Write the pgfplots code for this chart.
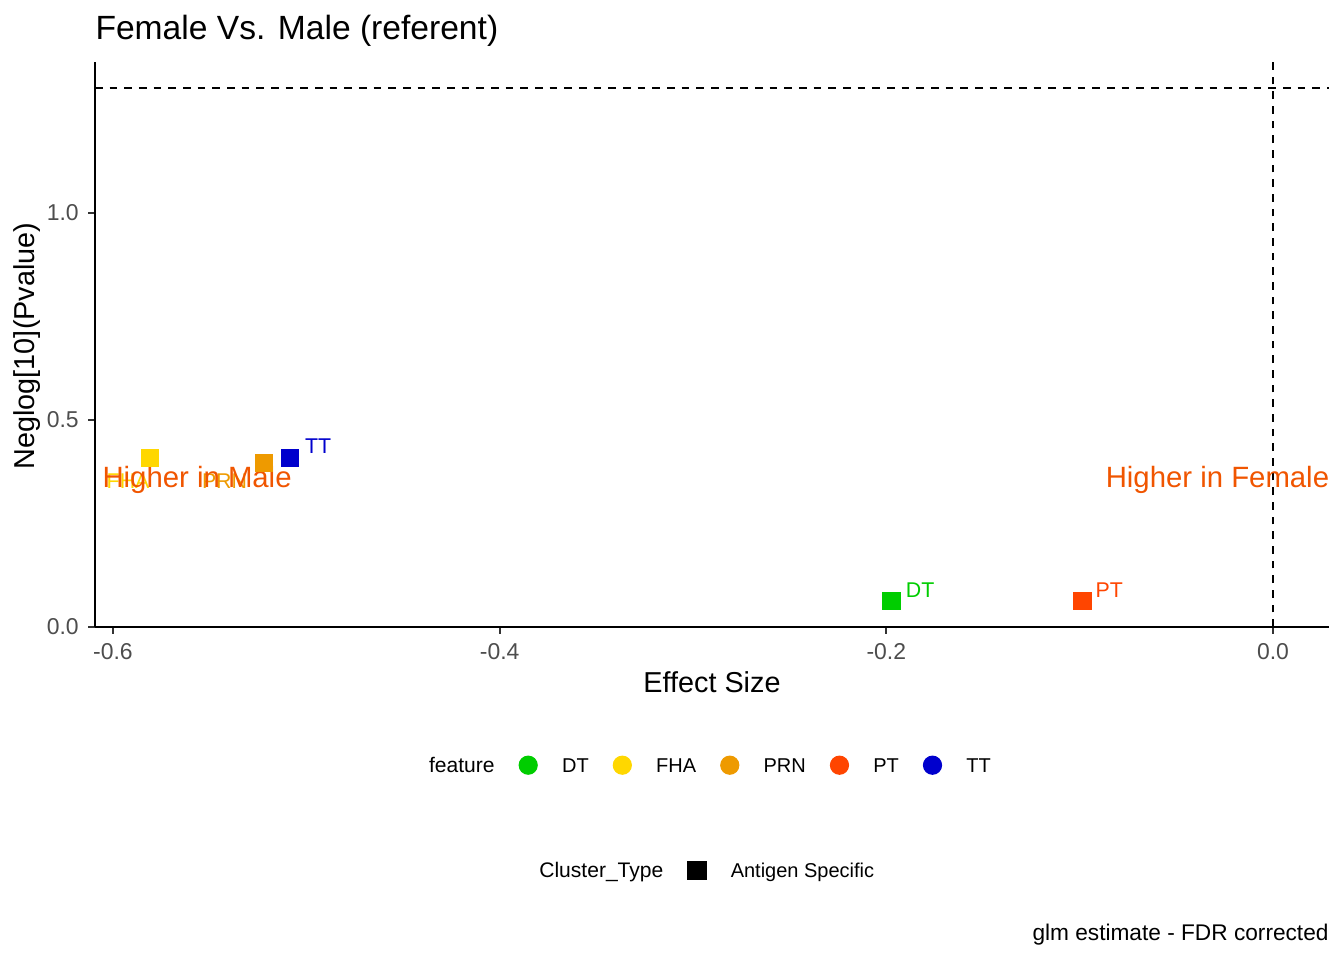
\documentclass[border=0pt]{standalone}
\usepackage{pgfplots}
\pgfplotsset{compat=1.18}
\usepackage{fontspec}
\setmainfont{Liberation Sans}
\definecolor{cDT}{HTML}{00CD00}
\definecolor{cFHA}{HTML}{FFD700}
\definecolor{cPRN}{HTML}{EE9A00}
\definecolor{cPT}{HTML}{FF4500}
\definecolor{cTT}{HTML}{0000CD}
\definecolor{cAnn}{HTML}{F05500}
\definecolor{tickgray}{HTML}{4D4D4D}
\newcommand{\legtitle}{\fontsize{7.9}{9}\selectfont}
\pgfplotsset{
  mylegend/.style={draw=none, fill=none, inner sep=0pt, outer sep=0pt,
    legend columns=-1, font=\fontsize{7.5}{9}\selectfont,
    cells={anchor=base west}, nodes={inner sep=0pt},
    /tikz/every odd column/.append style={column sep=9.1pt},
    /tikz/every even column/.append style={column sep=9.0pt}},
}
\begin{document}
\begin{tikzpicture}
\useasboundingbox (0,0) rectangle (504pt,360pt);
\begin{axis}[
  at={(35.625pt,124.875pt)}, anchor=south west,
  scale only axis, width=462.75pt, height=211.875pt,
  xmin=-0.6093, xmax=0.029, ymin=0, ymax=1.365,
  axis lines=left, axis line style={-, line width=0.9pt, black},
  tick align=outside, major tick length=2.6pt,
  tick style={line width=0.75pt, color=black!80},
  xtick={-0.6,-0.4,-0.2,0}, xticklabels={-0.6,-0.4,-0.2,0.0},
  ytick={0,0.5,1}, yticklabels={0.0,0.5,1.0},
  ticklabel style={font=\fontsize{8.6}{10}\selectfont, text=tickgray},
  /pgf/number format/assume math mode=true,
  clip=false,
  legend style={mylegend, at={(0.2510,-0.246)}, anchor=west},
]
\addlegendimage{empty legend}\addlegendentry{\legtitle feature}
\addlegendimage{legend image code/.code={\fill[cDT] (0pt,2.7pt) circle (3.4pt);}}\addlegendentry{DT}
\addlegendimage{legend image code/.code={\fill[cFHA] (0pt,2.7pt) circle (3.4pt);}}\addlegendentry{FHA}
\addlegendimage{legend image code/.code={\fill[cPRN] (0pt,2.7pt) circle (3.4pt);}}\addlegendentry{PRN}
\addlegendimage{legend image code/.code={\fill[cPT] (0pt,2.7pt) circle (3.4pt);}}\addlegendentry{PT}
\addlegendimage{legend image code/.code={\fill[cTT] (0pt,2.7pt) circle (3.4pt);}}\addlegendentry{TT}

\draw[black, line width=0.75pt, dash pattern=on 2.9pt off 2.6pt] (axis cs:-0.6093,1.301) -- (axis cs:0.029,1.301);
\draw[black, line width=0.75pt, dash pattern=on 2.9pt off 2.6pt] (axis cs:0,0) -- (axis cs:0,1.365);

\addplot[only marks, mark=square*, mark size=3.2pt, color=cDT, forget plot] coordinates {(-0.1973,0.062)};
\addplot[only marks, mark=square*, mark size=3.2pt, color=cFHA, forget plot] coordinates {(-0.5807,0.4075)};
\addplot[only marks, mark=square*, mark size=3.2pt, color=cPRN, forget plot] coordinates {(-0.5221,0.3954)};
\addplot[only marks, mark=square*, mark size=3.2pt, color=cPT, forget plot] coordinates {(-0.0985,0.062)};
\addplot[only marks, mark=square*, mark size=3.2pt, color=cTT, forget plot] coordinates {(-0.5083,0.4075)};

\node[anchor=base, inner sep=0pt, text=cDT, font=\fontsize{8}{9}\selectfont] at (axis cs:-0.1825,0.0725) {DT};
\node[anchor=base, inner sep=0pt, text=cFHA, font=\fontsize{8}{9}\selectfont] at (axis cs:-0.5922,0.3357) {FHA};
\node[anchor=base, inner sep=0pt, text=cPRN, font=\fontsize{8}{9}\selectfont] at (axis cs:-0.5423,0.3357) {PRN};
\node[anchor=base, inner sep=0pt, text=cPT, font=\fontsize{8}{9}\selectfont] at (axis cs:-0.0847,0.0725) {PT};
\node[anchor=base, inner sep=0pt, text=cTT, font=\fontsize{8}{9}\selectfont] at (axis cs:-0.4939,0.4203) {TT};

\node[anchor=base, inner sep=0pt, text=cAnn, font=\fontsize{11}{13}\selectfont] at (axis cs:-0.5565,0.338) {Higher in Male};
\node[anchor=base, inner sep=0pt, text=cAnn, font=\fontsize{11}{13}\selectfont] at (axis cs:-0.0287,0.338) {Higher in Female};
\end{axis}

\begin{axis}[
  at={(35.625pt,124.875pt)}, anchor=south west,
  scale only axis, width=462.75pt, height=211.875pt,
  xmin=0, xmax=1, ymin=0, ymax=1, hide axis,
  legend style={mylegend, at={(0.3404,-0.4319)}, anchor=west},
]
\addlegendimage{empty legend}\addlegendentry{\legtitle Cluster\_Type}
\addlegendimage{legend image code/.code={\fill[black] (-3.375pt,-0.675pt) rectangle (3.375pt,6.075pt);}}\addlegendentry{Antigen Specific}
\end{axis}

\node[anchor=base west, inner sep=0pt, font=\fontsize{12.6}{15}\selectfont] at (35.625pt,345pt) {Female Vs. Male (referent)};
\node[anchor=base, inner sep=0pt, font=\fontsize{10.8}{13}\selectfont] at (267pt,100.5pt) {Effect Size};
\node[anchor=base, inner sep=0pt, rotate=90, font=\fontsize{10.8}{13}\selectfont] at (13.1pt,230.25pt) {Neglog[10](Pvalue)};
\node[anchor=base east, inner sep=0pt, font=\fontsize{8.5}{10}\selectfont] at (498.4pt,7.3pt) {glm estimate - FDR corrected};
\end{tikzpicture}
\end{document}
